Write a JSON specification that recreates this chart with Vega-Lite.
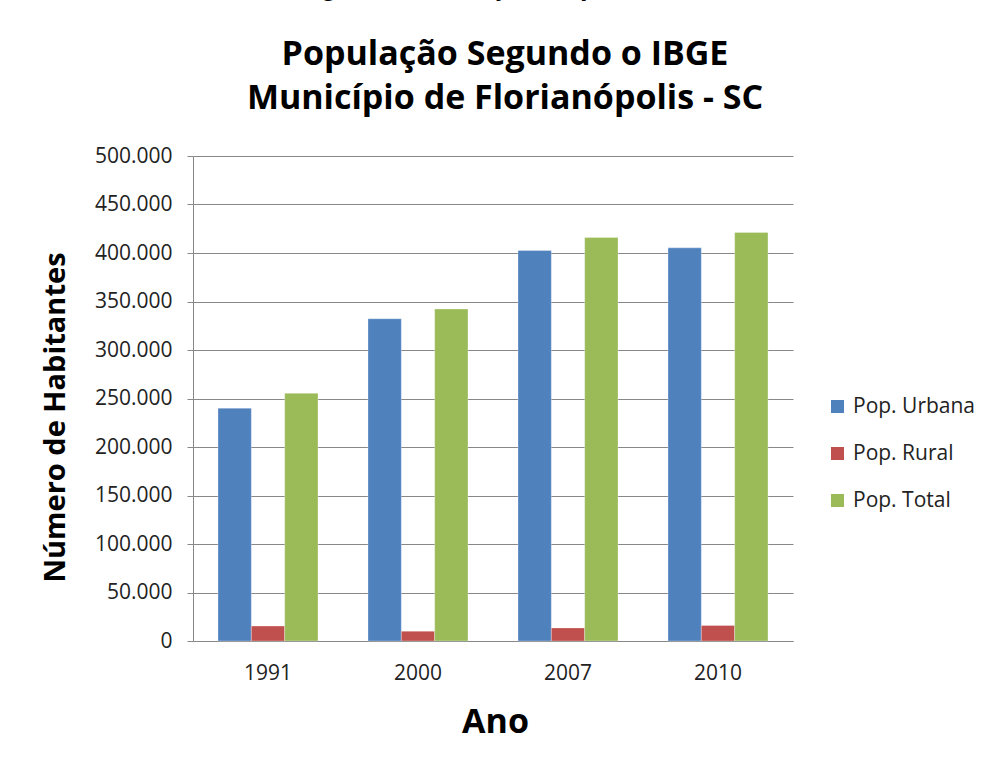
{
  "$schema": "https://vega.github.io/schema/vega-lite/v6.json",
  "width": 600,
  "height": 485,
  "autosize": {"type": "none"},
  "padding": {"left": 193, "top": 156, "right": 197, "bottom": 130},
  "background": "white",
  "title": {
    "text": "Figura 1: Evolução Populacional",
    "subtitle": ["População Segundo o IBGE", "Município de Florianópolis - SC"],
    "font": "Liberation Sans",
    "fontSize": 27,
    "fontWeight": "bold",
    "color": "black",
    "subtitleFont": "Open Sans",
    "subtitleFontSize": 34,
    "subtitleFontWeight": "bold",
    "subtitleColor": "black",
    "subtitleLineHeight": 44,
    "subtitlePadding": 37,
    "offset": 28,
    "anchor": "middle",
    "dx": 12
  },
  "data": {
    "values": [
      {"ano": "1991", "serie": "Pop. Urbana", "valor": 239996},
      {"ano": "1991", "serie": "Pop. Rural", "valor": 15394},
      {"ano": "1991", "serie": "Pop. Total", "valor": 255390},
      {"ano": "2000", "serie": "Pop. Urbana", "valor": 332185},
      {"ano": "2000", "serie": "Pop. Rural", "valor": 10130},
      {"ano": "2000", "serie": "Pop. Total", "valor": 342315},
      {"ano": "2007", "serie": "Pop. Urbana", "valor": 402500},
      {"ano": "2007", "serie": "Pop. Rural", "valor": 13500},
      {"ano": "2007", "serie": "Pop. Total", "valor": 416000},
      {"ano": "2010", "serie": "Pop. Urbana", "valor": 405286},
      {"ano": "2010", "serie": "Pop. Rural", "valor": 15954},
      {"ano": "2010", "serie": "Pop. Total", "valor": 421240}
    ]
  },
  "mark": {"type": "bar", "stroke": "white", "strokeWidth": 0.5, "strokeOpacity": 0.6},
  "encoding": {
    "x": {
      "field": "ano",
      "type": "nominal",
      "title": "Ano",
      "scale": {"paddingInner": 0.3333, "paddingOuter": 0.1667},
      "axis": {
        "labelAngle": 0,
        "labelFont": "Open Sans",
        "labelFontSize": 21,
        "labelColor": "#222",
        "labelPadding": 21,
        "ticks": false,
        "domainColor": "#888",
        "titleFont": "Open Sans",
        "titleFontSize": 34,
        "titleFontWeight": "bold",
        "titleColor": "black",
        "titlePadding": 22,
        "titleX": 302
      }
    },
    "xOffset": {"field": "serie", "type": "nominal", "sort": ["Pop. Urbana", "Pop. Rural", "Pop. Total"]},
    "y": {
      "field": "valor",
      "type": "quantitative",
      "title": "Número de Habitantes",
      "scale": {"domain": [0, 500000]},
      "axis": {
        "values": [0, 50000, 100000, 150000, 200000, 250000, 300000, 350000, 400000, 450000, 500000],
        "format": ",d",
        "labelFont": "Open Sans",
        "labelFontSize": 21,
        "labelColor": "#222",
        "labelPadding": 15,
        "tickSize": 6,
        "tickColor": "#888",
        "domainColor": "#888",
        "gridColor": "#888",
        "gridWidth": 1,
        "titleFont": "Open Sans",
        "titleFontSize": 29,
        "titleFontWeight": "bold",
        "titleColor": "black",
        "titlePadding": 24,
        "titleY": 261
      }
    },
    "color": {
      "field": "serie",
      "type": "nominal",
      "sort": ["Pop. Urbana", "Pop. Rural", "Pop. Total"],
      "scale": {"domain": ["Pop. Urbana", "Pop. Rural", "Pop. Total"], "range": ["#4F81BD", "#C0504D", "#9BBB59"]},
      "legend": {
        "title": null,
        "orient": "none",
        "legendX": 634,
        "legendY": 240,
        "symbolType": "square",
        "symbolSize": 169,
        "symbolStrokeWidth": 0,
        "labelFont": "Open Sans",
        "labelFontSize": 21,
        "labelColor": "#222",
        "rowPadding": 25,
        "labelOffset": 5
      }
    }
  },
  "config": {
    "locale": {"number": {"decimal": ",", "thousands": ".", "grouping": [3], "currency": ["R$", ""]}},
    "view": {"stroke": null}
  }
}
